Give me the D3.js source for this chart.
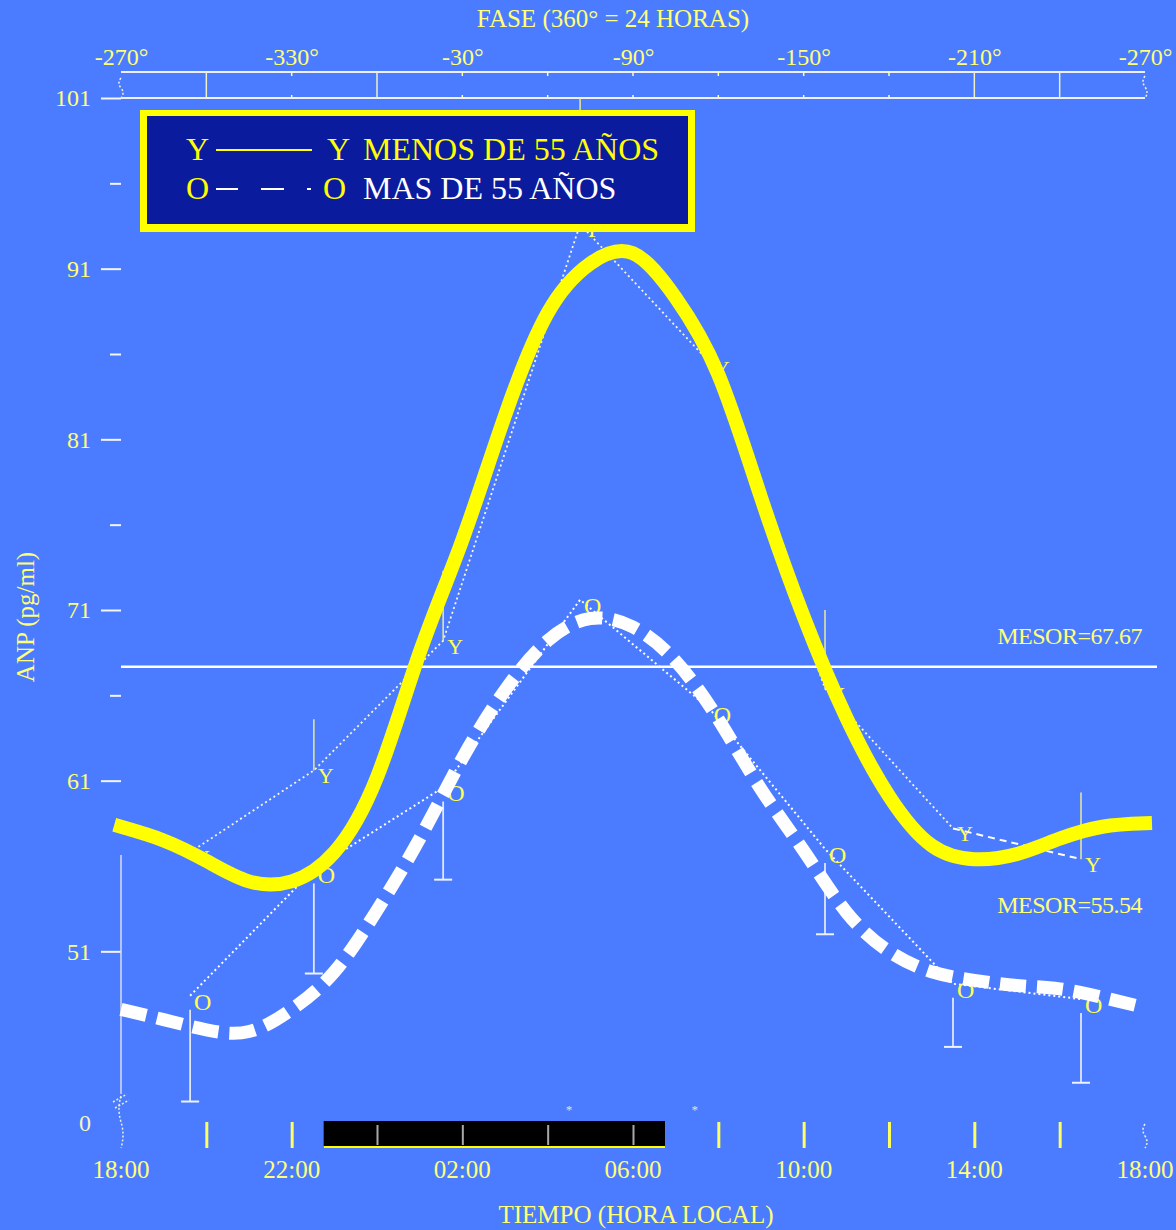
<!DOCTYPE html>
<html>
<head>
<meta charset="utf-8">
<script src="https://cdn.jsdelivr.net/npm/d3@7"></script>
<style>
  html, body { margin: 0; padding: 0; background: #4b7cff; }
  svg { display: block; }
  text { font-family: "Liberation Serif", "DejaVu Serif", serif; }
</style>
</head>
<body>
<svg id="chart" width="1176" height="1230"></svg>
<script>
// hours after 18:00, one fitted value per hour
const fitHours = [0,1,2,3,4,5,6,7,8,9,10,11,12,13,14,15,16,17,18,19,20,21,22,23,24];
const youngFit = [58.3,57.5,56.3,55.1,55.1,56.8,61.2,68.5,75.1,82.4,88.4,91.3,91.9,89.3,84.8,77.6,70.6,64.7,60.1,57.2,56.4,56.7,57.6,58.3,58.5];
const oldFit   = [47.6,47.0,46.4,46.3,47.6,49.8,53.4,57.6,62.3,66.3,69.2,70.5,70.0,68.0,64.6,60.5,56.9,53.3,51.0,49.8,49.3,49.0,48.8,48.3,47.7];

// observed means (Y = menos de 55, O = mas de 55)
const obsHours = [1.62, 4.52, 7.55, 10.76, 13.8, 16.5, 19.5, 22.5];
const youngObs = [56.8, 61.6, 69.2, 93.6, 85.5, 66.4, 58.2, 56.4];
const oldObs   = [48.4, 55.8, 60.6, 71.6, 65.2, 57.0, 49.1, 48.2];
const youngSem = [null, 3.0, 4.1, 7.4, null, 4.6, null, 3.9];
const oldSem   = [6.2, 6.1, 5.4, null, null, 5.0, 3.7, 4.9];

const mesorYoung = 67.67;
const mesorOld = 55.54;

const xLabelHours = [0, 4, 8, 12, 16, 20, 24];
const timeLabels = ["18:00", "22:00", "02:00", "06:00", "10:00", "14:00", "18:00"];
const phaseLabels = ["-270°", "-330°", "-30°", "-90°", "-150°", "-210°", "-270°"];
const xMinorHours = [2, 4, 6, 8, 10, 12, 14, 16, 18, 20, 22];
const phaseLongTicks = [2, 6, 20, 22];
const phaseShortTicks = [4, 8, 10, 12, 14, 16, 18];
const yMajor = [101, 91, 81, 71, 61, 51];
const yMinor = [96, 86, 76, 66];
const darkStart = 4.75, darkEnd = 12.75;
const asteriskHours = [10.5, 13.45];

const svg = d3.select("#chart");
const x = d3.scaleLinear().domain([0, 24]).range([121, 1145]);
const y = d3.scaleLinear().domain([41, 101]).range([1122, 98]);

const pale = "#ffff78";

svg.append("rect").attr("width", 1176).attr("height", 1230).attr("fill", "#4b7cff");

// top phase axis
svg.append("text").attr("x", 613).attr("y", 27).attr("text-anchor", "middle")
  .attr("font-size", 25).attr("fill", pale).text("FASE  (360° = 24 HORAS)");

const phaseAx = svg.append("g").attr("transform", "translate(0,72)")
  .call(d3.axisTop(x).tickValues(xLabelHours).tickSize(0).tickPadding(7)
    .tickFormat((d, i) => phaseLabels[i]));
phaseAx.select(".domain").remove();
phaseAx.selectAll("text").attr("font-family", "Liberation Serif").attr("font-size", 24).attr("fill", pale);

[72, 98].forEach(v => {
  svg.append("line").attr("x1", x(0)).attr("x2", x(24)).attr("y1", v).attr("y2", v)
    .attr("stroke", "#eef0ff").attr("stroke-width", 2);
});
svg.selectAll(".plong").data(phaseLongTicks).join("line")
  .attr("x1", d => x(d)).attr("x2", d => x(d)).attr("y1", 72).attr("y2", 98)
  .attr("stroke", "#eef0c0").attr("stroke-width", 1.5);
svg.selectAll(".pshort1").data(phaseShortTicks).join("line")
  .attr("x1", d => x(d)).attr("x2", d => x(d)).attr("y1", 72).attr("y2", 76)
  .attr("stroke", "#ffffa0").attr("stroke-width", 1.5);
svg.selectAll(".pshort2").data(phaseShortTicks).join("line")
  .attr("x1", d => x(d)).attr("x2", d => x(d)).attr("y1", 95).attr("y2", 98)
  .attr("stroke", "#ffffa0").attr("stroke-width", 1.5);

// axis break marks
function breakMark(cx, y0, y1) {
  svg.append("path")
    .attr("d", `M${cx},${y0} q-4,${(y1 - y0) / 4} 0,${(y1 - y0) / 2} q4,${(y1 - y0) / 4} 0,${(y1 - y0) / 2}`)
    .attr("fill", "none").attr("stroke", "#f0f0d0").attr("stroke-width", 1.5)
    .attr("stroke-dasharray", "2,2");
}
breakMark(x(0), 78, 98);
breakMark(x(24), 76, 98);
breakMark(x(0), 1096, 1148);
breakMark(x(24), 1124, 1148);
svg.append("path").attr("d", `M${x(0) - 8},1102 l14,-8 M${x(0) - 6},1108 l14,-8`)
  .attr("stroke", "#f0f0d0").attr("stroke-width", 1.5).attr("stroke-dasharray", "2,2");

// left axis
const yAx = svg.append("g").attr("transform", `translate(${x(0)},0)`)
  .call(d3.axisLeft(y).tickValues(yMajor).tickSize(20).tickPadding(10).tickFormat(d3.format("d")));
yAx.select(".domain").remove();
yAx.selectAll("line").attr("stroke", "#f4f4ff").attr("stroke-width", 2);
yAx.selectAll("text").attr("font-family", "Liberation Serif").attr("font-size", 24).attr("fill", pale);
const yMin = svg.append("g").attr("transform", `translate(${x(0)},0)`)
  .call(d3.axisLeft(y).tickValues(yMinor).tickSize(11).tickFormat(""));
yMin.select(".domain").remove();
yMin.selectAll("line").attr("stroke", "#f4f4ff").attr("stroke-width", 2);
svg.append("text").attr("x", 91).attr("y", y(41) + 9).attr("text-anchor", "end")
  .attr("font-size", 24).attr("fill", "#f4f4c0").text("0");
svg.append("line").attr("x1", x(0)).attr("x2", x(0)).attr("y1", 855).attr("y2", 1094)
  .attr("stroke", "#d8dcea").attr("stroke-width", 1.5);

svg.append("text").attr("transform", "translate(34,617) rotate(-90)").attr("text-anchor", "middle")
  .attr("font-size", 25).attr("fill", pale).text("ANP (pg/ml)");

// mesor
svg.append("line").attr("x1", x(0)).attr("x2", 1157).attr("y1", y(mesorYoung)).attr("y2", y(mesorYoung))
  .attr("stroke", "#ffffff").attr("stroke-width", 2.5);
svg.append("text").attr("x", 1142).attr("y", y(mesorYoung) - 23).attr("text-anchor", "end")
  .attr("font-size", 24).attr("letter-spacing", -0.5).attr("fill", pale).text("MESOR=" + mesorYoung);
svg.append("text").attr("x", 1142).attr("y", y(mesorOld) + 39).attr("text-anchor", "end")
  .attr("font-size", 24).attr("letter-spacing", -0.5).attr("fill", pale).text("MESOR=" + mesorOld);

// observed means joined by dotted lines (drawn under the fitted curves)
const obsLine = d3.line().x((d, i) => x(obsHours[i])).y(d => y(d));
svg.append("path").attr("d", obsLine(oldObs)).attr("fill", "none")
  .attr("stroke", "#ffffff").attr("stroke-width", 2).attr("stroke-dasharray", "2,3");
svg.append("path").attr("d", obsLine(youngObs.slice(0, 7))).attr("fill", "none")
  .attr("stroke", "#f8f8d8").attr("stroke-width", 1.8).attr("stroke-dasharray", "2,3");
svg.append("path").attr("d", d3.line().x(d => x(d[0])).y(d => y(d[1]))([[obsHours[6], youngObs[6]], [obsHours[7], youngObs[7]]]))
  .attr("fill", "none").attr("stroke", "#ffffff").attr("stroke-width", 2).attr("stroke-dasharray", "7,5");

// error bars: young up, old down
youngObs.forEach((v, i) => {
  if (youngSem[i] == null) return;
  svg.append("line").attr("x1", x(obsHours[i])).attr("x2", x(obsHours[i]))
    .attr("y1", y(v)).attr("y2", y(v + youngSem[i]))
    .attr("stroke", "#eaea9a").attr("stroke-width", 1.5);
});
oldObs.forEach((v, i) => {
  if (oldSem[i] == null) return;
  const cx = x(obsHours[i]);
  svg.append("line").attr("x1", cx).attr("x2", cx)
    .attr("y1", y(v) + 14).attr("y2", y(v - oldSem[i]))
    .attr("stroke", "#dfe6ff").attr("stroke-width", 1.8);
  svg.append("line").attr("x1", cx - 9).attr("x2", cx + 9)
    .attr("y1", y(v - oldSem[i])).attr("y2", y(v - oldSem[i]))
    .attr("stroke", "#eef2ff").attr("stroke-width", 2);
});

svg.selectAll(".ylab").data(youngObs).join("text")
  .attr("x", (d, i) => x(obsHours[i]) + 4).attr("y", d => y(d) + 13)
  .attr("font-size", 22).attr("fill", "#ffff50").text("Y");
svg.selectAll(".olab").data(oldObs).join("text")
  .attr("x", (d, i) => x(obsHours[i]) + 4).attr("y", d => y(d) + 14)
  .attr("font-size", 24).attr("fill", "#ffff50").text("O");

// fitted curves
const fitLine = d3.line().x((d, i) => x(fitHours[i])).y(d => y(d)).curve(d3.curveNatural);
svg.append("path").attr("d", fitLine(oldFit)).attr("fill", "none")
  .attr("stroke", "#ffffff").attr("stroke-width", 13).attr("stroke-dasharray", "26,11");
svg.append("path").attr("d", fitLine(youngFit)).attr("fill", "none")
  .attr("stroke", "#ffff00").attr("stroke-width", 14).attr("stroke-linecap", "square");

// legend
svg.append("rect").attr("x", 140).attr("y", 110).attr("width", 555).attr("height", 122).attr("fill", "#ffff00");
svg.append("rect").attr("x", 147).attr("y", 116).attr("width", 541).attr("height", 108).attr("fill", "#0b1b9e");
const lg = svg.append("g").attr("font-size", 32);
lg.append("text").attr("x", 186).attr("y", 160).attr("fill", "#ffff00").text("Y");
lg.append("line").attr("x1", 216).attr("x2", 312).attr("y1", 150).attr("y2", 150).attr("stroke", "#ffff00").attr("stroke-width", 2);
lg.append("text").attr("x", 327).attr("y", 160).attr("fill", "#ffff00").text("Y");
lg.append("text").attr("x", 363).attr("y", 160).attr("fill", "#ffff00").text("MENOS DE 55 AÑOS");
lg.append("text").attr("x", 186).attr("y", 199).attr("fill", "#ffff00").text("O");
lg.append("path").attr("d", "M216,189H238M261,189H284M307,189H311").attr("stroke", "#ffffff").attr("stroke-width", 2);
lg.append("text").attr("x", 323).attr("y", 199).attr("fill", "#ffff00").text("O");
lg.append("text").attr("x", 363).attr("y", 199).attr("fill", "#ffffff").text("MAS DE 55 AÑOS");

// bottom time axis with dark period bar
svg.append("rect").attr("x", x(darkStart)).attr("y", 1121).attr("width", x(darkEnd) - x(darkStart)).attr("height", 27)
  .attr("fill", "#000000");
svg.append("line").attr("x1", x(darkStart)).attr("x2", x(darkEnd)).attr("y1", 1147).attr("y2", 1147)
  .attr("stroke", "#ffff00").attr("stroke-width", 2);
const bx = svg.append("g").attr("transform", "translate(0,1122)")
  .call(d3.axisBottom(x).tickValues(xMinorHours).tickSize(26).tickFormat(""));
bx.select(".domain").remove();
bx.selectAll("line")
  .attr("stroke", d => (d > darkStart && d < darkEnd) ? "#a8a8a8" : "#ffff60")
  .attr("stroke-width", d => (d > darkStart && d < darkEnd) ? 2 : 3)
  .attr("y1", d => (d > darkStart && d < darkEnd) ? 3 : 0)
  .attr("y2", d => (d > darkStart && d < darkEnd) ? 23 : 26);

svg.selectAll(".ast").data(asteriskHours).join("text")
  .attr("x", d => x(d)).attr("y", 1114).attr("text-anchor", "middle")
  .attr("font-size", 13).attr("fill", "#e0e0e0").text("*");

svg.selectAll(".tlab").data(xLabelHours).join("text")
  .attr("x", d => x(d)).attr("y", 1178).attr("text-anchor", "middle")
  .attr("font-size", 25).attr("fill", pale).text((d, i) => timeLabels[i]);

svg.append("text").attr("x", 636).attr("y", 1223).attr("text-anchor", "middle")
  .attr("font-size", 25).attr("fill", pale).text("TIEMPO (HORA LOCAL)");
</script>
</body>
</html>
